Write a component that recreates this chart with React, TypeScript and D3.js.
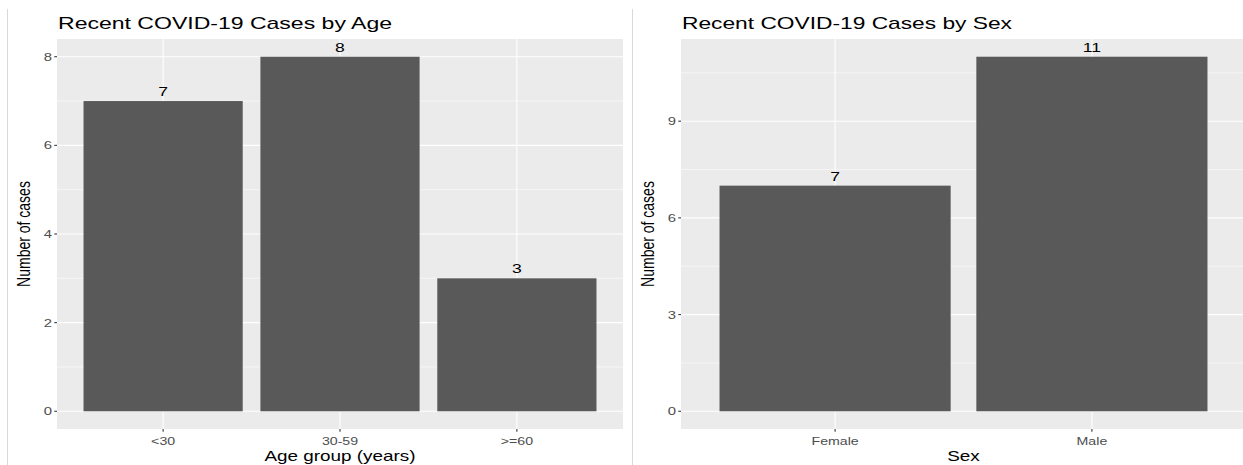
import React from "react";
import * as d3 from "d3";

const ageCategories = ["<30", "30-59", ">=60"];
const ageValues = [7, 8, 3];
const ageTicks = [0, 2, 4, 6, 8];
const ageMinor = [1, 3, 5, 7];

const sexCategories = ["Female", "Male"];
const sexValues = [7, 11];
const sexTicks = [0, 3, 6, 9];
const sexMinor = [1.5, 4.5, 7.5, 10.5];

const SX = 1.35;
const FONT = "Liberation Sans, Arial, Helvetica, sans-serif";

type PanelProps = {
  title: string;
  xTitle: string;
  yTitle: string;
  cats: string[];
  vals: number[];
  ticks: number[];
  minor: number[];
  left: number;
  right: number;
  top: number;
  bottom: number;
  yTitleX: number;
  titleWidth: number;
};

function Panel(p: PanelProps) {
  const maxV = d3.max(p.vals) as number;
  const y = d3
    .scaleLinear()
    .domain([-0.05 * maxV, maxV * 1.05])
    .range([p.bottom, p.top]);
  const n = p.cats.length;
  const xl = d3
    .scaleLinear()
    .domain([0.4, n + 0.6])
    .range([p.left, p.right]);
  const cx = (i: number) => xl(i + 1);
  const bw = xl(1.45) - xl(0.55);
  const midX = (p.left + p.right) / 2;
  return (
    <g>
      <rect x={p.left} y={p.top} width={p.right - p.left} height={p.bottom - p.top} fill="#EBEBEB" />
      {p.minor.map((m) => (
        <line key={"mn" + m} x1={p.left} x2={p.right} y1={y(m)} y2={y(m)} stroke="#fff" strokeWidth={0.55} />
      ))}
      {p.ticks.map((t) => (
        <line key={"mj" + t} x1={p.left} x2={p.right} y1={y(t)} y2={y(t)} stroke="#fff" strokeWidth={1.1} />
      ))}
      {p.cats.map((c, i) => (
        <line key={"vx" + c} x1={cx(i)} x2={cx(i)} y1={p.top} y2={p.bottom} stroke="#fff" strokeWidth={1.1} />
      ))}
      {p.cats.map((c, i) => (
        <rect key={"b" + c} x={cx(i) - bw / 2} y={y(p.vals[i])} width={bw} height={y(0) - y(p.vals[i])} fill="#595959" />
      ))}
      {p.cats.map((c, i) => (
        <text
          key={"v" + c}
          transform={`translate(${cx(i)},${y(p.vals[i]) - 5}) scale(${SX},1)`}
          textAnchor="middle"
          fontSize={13}
          fontFamily={FONT}
          fill="#000"
        >
          {p.vals[i]}
        </text>
      ))}
      {/* y ticks */}
      {p.ticks.map((t) => (
        <g key={"yt" + t}>
          <line x1={p.left - 2.7} x2={p.left} y1={y(t)} y2={y(t)} stroke="#333" strokeWidth={1.07} />
          <text
            transform={`translate(${p.left - 5},${y(t) + 4}) scale(${SX},1)`}
            textAnchor="end"
            fontSize={11}
            fontFamily={FONT}
            fill="#4D4D4D"
          >
            {t}
          </text>
        </g>
      ))}
      {/* x ticks */}
      {p.cats.map((c, i) => (
        <g key={"xt" + c}>
          <line x1={cx(i)} x2={cx(i)} y1={p.bottom} y2={p.bottom + 2.7} stroke="#333" strokeWidth={1.07} />
          <text
            transform={`translate(${cx(i)},${p.bottom + 16}) scale(${SX},1)`}
            textAnchor="middle"
            fontSize={10.5}
            fontFamily={FONT}
            fill="#4D4D4D"
          >
            {c}
          </text>
        </g>
      ))}
      <text
        transform={`translate(${midX},${p.bottom + 32}) scale(${SX},1)`}
        textAnchor="middle"
        fontSize={14}
        fontFamily={FONT}
        fill="#000"
      >
        {p.xTitle}
      </text>
      <text
        transform={`translate(${p.yTitleX},${(p.top + p.bottom) / 2}) scale(${SX},1) rotate(-90)`}
        textAnchor="middle"
        fontSize={14}
        fontFamily={FONT}
        fill="#000"
      >
        {p.yTitle}
      </text>
      <text
        x={p.left + 1}
        y={29}
        fontSize={17}
        fontFamily={FONT}
        fill="#000"
        textLength={p.titleWidth}
        lengthAdjust="spacingAndGlyphs"
      >
        {p.title}
      </text>
    </g>
  );
}

export default function App() {
  return (
    <svg
      width={1243}
      height={465}
      style={{ position: "absolute", left: 0, top: 0, background: "#fff" }}
    >
      <rect x={0} y={0} width={1243} height={465} fill="#fff" />
      <line x1={7.5} x2={7.5} y1={9} y2={465} stroke="#D9D9D9" strokeWidth={1} />
      <line x1={632.5} x2={632.5} y1={9} y2={465} stroke="#D9D9D9" strokeWidth={1} />
      <Panel
        title="Recent COVID-19 Cases by Age"
        xTitle="Age group (years)"
        yTitle="Number of cases"
        cats={ageCategories}
        vals={ageValues}
        ticks={ageTicks}
        minor={ageMinor}
        left={57}
        right={623}
        top={39}
        bottom={429}
        yTitleX={30}
        titleWidth={334}
      />
      <Panel
        title="Recent COVID-19 Cases by Sex"
        xTitle="Sex"
        yTitle="Number of cases"
        cats={sexCategories}
        vals={sexValues}
        ticks={sexTicks}
        minor={sexMinor}
        left={681}
        right={1246}
        top={39}
        bottom={429}
        yTitleX={654}
        titleWidth={330}
      />
    </svg>
  );
}
